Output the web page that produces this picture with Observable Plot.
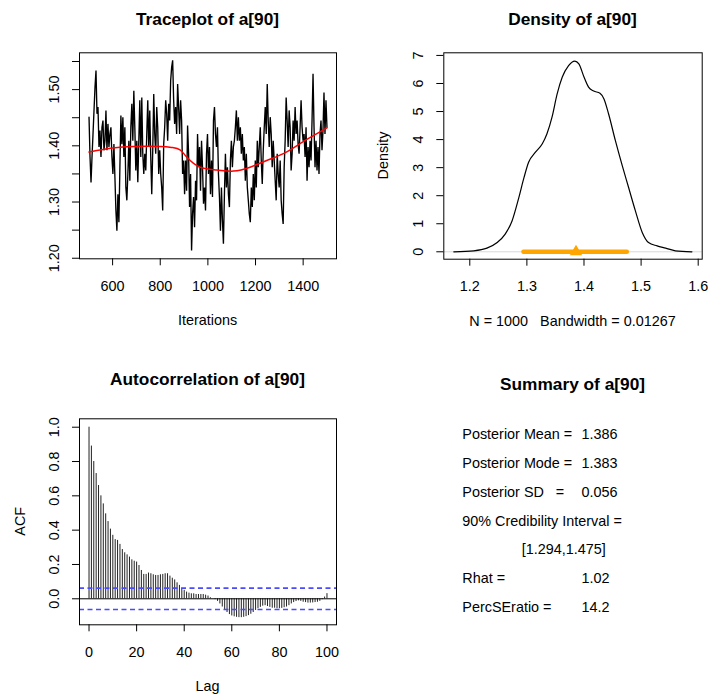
<!DOCTYPE html>
<html><head><meta charset="utf-8">
<script src="https://cdn.jsdelivr.net/npm/d3@7"></script>
<script src="https://cdn.jsdelivr.net/npm/@observablehq/plot@0.6"></script>
<style>
html,body{margin:0;padding:0;background:#fff;}
#chart{position:relative;width:710px;height:695px;background:#fff;overflow:hidden;}
</style></head><body><div id="chart"></div>
<script>
// ---------------- DATA ----------------
const paramName = "a[90]";
const traceFirstIter = 501, traceLastIter = 1500;
const traceValues = [
1.451,1.380,1.335,1.380,1.421,1.463,1.504,1.534,1.457,1.469,1.398,1.427,1.380,1.433,1.445,1.392,1.409,1.463,1.392,1.439,
1.398,1.421,1.433,1.380,1.350,1.403,1.344,1.285,1.249,1.314,1.264,1.362,1.454,1.403,1.451,1.380,1.433,1.326,1.303,1.350,
1.409,1.338,1.433,1.475,1.409,1.498,1.433,1.356,1.409,1.335,1.409,1.481,1.380,1.486,1.386,1.350,1.386,1.356,1.421,1.481,
1.398,1.463,1.380,1.314,1.392,1.492,1.421,1.386,1.469,1.433,1.350,1.392,1.350,1.326,1.285,1.403,1.433,1.481,1.457,1.409,
1.475,1.445,1.516,1.540,1.552,1.481,1.439,1.469,1.421,1.510,1.469,1.421,1.481,1.445,1.350,1.374,1.314,1.374,1.320,1.436,
1.386,1.291,1.350,1.214,1.279,1.309,1.255,1.338,1.303,1.421,1.362,1.398,1.320,1.409,1.362,1.297,1.326,1.285,1.386,1.421,
1.350,1.398,1.314,1.374,1.309,1.445,1.469,1.421,1.398,1.433,1.350,1.309,1.249,1.326,1.267,1.226,1.314,1.386,1.326,1.362,
1.314,1.291,1.374,1.409,1.362,1.398,1.409,1.433,1.463,1.409,1.451,1.409,1.433,1.386,1.421,1.374,1.398,1.338,1.386,1.326,
1.303,1.279,1.264,1.326,1.291,1.350,1.303,1.374,1.326,1.409,1.362,1.398,1.433,1.374,1.332,1.392,1.433,1.469,1.421,1.510,
1.445,1.398,1.451,1.421,1.362,1.409,1.374,1.338,1.303,1.386,1.350,1.326,1.374,1.303,1.279,1.261,1.362,1.409,1.486,1.445,
1.398,1.463,1.433,1.356,1.386,1.445,1.409,1.469,1.421,1.445,1.403,1.386,1.433,1.481,1.433,1.409,1.421,1.380,1.433,1.338,
1.398,1.362,1.409,1.374,1.445,1.528,1.433,1.362,1.409,1.356,1.398,1.350,1.421,1.445,1.392,1.427,1.495,1.421,1.481,1.433
];
// Red smoother through the trace
const smoothIter  = [501,600,687,799,850,883,911,967,1037,1107,1177,1247,1317,1387,1443,1500];
const smoothValue = [1.389,1.396,1.399,1.399,1.397,1.393,1.380,1.362,1.357,1.355,1.362,1.374,1.386,1.404,1.418,1.432];
const traceXTicks = [600,800,1000,1200,1400];
const traceYTicks = [1.20,1.25,1.30,1.35,1.40,1.45,1.50,1.55];
const traceYTickLabels = ["1.20","","1.30","","1.40","","1.50",""];

// Density curve
const densX = [1.172,1.207,1.230,1.248,1.262,1.274,1.286,1.295,1.303,1.315,1.327,1.335,1.344,1.353,1.362,1.373,1.384,1.391,1.400,1.408,1.417,1.428,1.435,1.443,1.455,1.467,1.478,1.490,1.502,1.513,1.528,1.543,1.560,1.589];
const densY = [0.0,0.036,0.13,0.33,0.63,1.1,1.94,2.65,3.19,3.55,3.85,4.2,4.8,5.63,6.23,6.64,6.8,6.7,6.23,5.87,5.73,5.65,5.45,4.92,3.96,3.07,2.3,1.46,0.69,0.33,0.21,0.13,0.036,0.0];
const densXTicks = [1.2,1.3,1.4,1.5,1.6];
const densYTicks = [0,1,2,3,4,5,6,7];
const posteriorMean = 1.386;
const ciLow = 1.294, ciHigh = 1.475;
const densNote = "N = 1000   Bandwidth = 0.01267";

// Autocorrelation, lags 0..100
const acfValues = [
1.0,0.89,0.80,0.73,0.66,0.60,0.553,0.495,0.45,0.406,
0.37,0.345,0.34,0.317,0.287,0.268,0.256,0.243,0.227,0.219,
0.214,0.194,0.165,0.142,0.142,0.15,0.146,0.14,0.136,0.136,
0.14,0.142,0.146,0.146,0.132,0.12,0.11,0.093,0.078,0.058,
0.049,0.039,0.033,0.029,0.029,0.025,0.025,0.025,0.025,0.021,
0.016,0.006,0.0,-0.005,-0.015,-0.03,-0.048,-0.065,-0.08,-0.092,
-0.1,-0.105,-0.108,-0.11,-0.11,-0.108,-0.104,-0.098,-0.09,-0.08,
-0.068,-0.058,-0.05,-0.043,-0.04,-0.045,-0.05,-0.055,-0.055,-0.058,
-0.058,-0.056,-0.052,-0.048,-0.04,-0.03,-0.022,-0.016,-0.012,-0.015,
-0.02,-0.022,-0.025,-0.025,-0.024,-0.022,-0.02,-0.015,-0.005,0.01,
0.03];
const acfCI = 0.062;
const acfXTicks = [0,20,40,60,80,100];
const acfYTicks = [0,0.2,0.4,0.6,0.8,1.0];

// Summary panel
const summaryLabels = ["Posterior Mean =","Posterior Mode =","Posterior SD   =","90% Credibility Interval =","","Rhat =","PercSEratio ="];
const summaryValues = ["1.386","1.383","0.056","","[1.294,1.475]","1.02","14.2"];

// ---------------- BUILD ----------------
const FONT = '"Liberation Sans", Arial, Helvetica, sans-serif';
const chart = document.getElementById("chart");
function place(el, left, top) {
  el.style.position = "absolute"; el.style.left = left + "px"; el.style.top = top + "px";
  chart.appendChild(el);
}
const style = {fontFamily: FONT, fontSize: "14.4px", background: "transparent", color: "black", overflow: "visible"};
const ax = {tickSize: 7, fontSize: 14.4, label: null, stroke: "black"};

const trace = traceValues.map((v, i) => ({iter: traceFirstIter + i * (traceLastIter - traceFirstIter) / (traceValues.length - 1), value: v}));
const smooth = smoothIter.map((t, i) => ({iter: t, value: smoothValue[i]}));
const traceYMap = new Map(traceYTicks.map((t, i) => [t, traceYTickLabels[i]]));

const p1 = Plot.plot({
  width: 355, height: 340, marginLeft: 79, marginRight: 19, marginTop: 52.3, marginBottom: 81.7,
  x: {domain: [461, 1540]}, y: {domain: [1.199, 1.5655]}, style,
  marks: [
    Plot.line(trace, {x: "iter", y: "value", stroke: "black", strokeWidth: 1.35, strokeLinejoin: "miter"}),
    Plot.line(smooth, {x: "iter", y: "value", stroke: "red", strokeWidth: 1.5, curve: "natural"}),
    Plot.frame({stroke: "black"}),
    Plot.axisX({...ax, ticks: traceXTicks, tickPadding: 15, tickFormat: d => String(d)}),
    Plot.axisY({...ax, ticks: traceYTicks, tickPadding: 14, tickRotate: -90, tickFormat: d => traceYMap.get(d) ?? ""})
  ]
});
place(p1, 0, 0);

const dens = densX.map((x, i) => ({x, y: densY[i]}));
const p2 = Plot.plot({
  width: 355, height: 340, marginLeft: 88.3, marginRight: 8.3, marginTop: 52.3, marginBottom: 81.3,
  x: {domain: [1.1545, 1.607]}, y: {domain: [-0.264, 7.094]}, style,
  marks: [
    Plot.ruleY([0], {stroke: "#d9d9d9"}),
    Plot.line(dens, {x: "x", y: "y", stroke: "black", strokeWidth: 1.2, curve: "monotone-x"}),
    Plot.link([{a: ciLow, b: ciHigh}], {x1: "a", x2: "b", y1: () => 0, y2: () => 0, stroke: "orange", strokeWidth: 4.5, strokeLinecap: "round"}),
    Plot.dot([posteriorMean], {x: d => d, y: () => 0, symbol: "triangle", r: 4.6, fill: "orange", stroke: "none"}),
    Plot.frame({stroke: "black"}),
    Plot.axisX({...ax, ticks: densXTicks, tickPadding: 15, tickFormat: d => d.toFixed(1)}),
    Plot.axisY({...ax, ticks: densYTicks, tickPadding: 14, tickRotate: -90, tickFormat: d => String(d)})
  ]
});
place(p2, 355, 0);

const acf = acfValues.map((v, i) => ({lag: i, acf: v}));
const p3 = Plot.plot({
  width: 355, height: 355, marginLeft: 79, marginRight: 19, marginTop: 78.3, marginBottom: 70.7,
  x: {domain: [-4, 104]}, y: {domain: [-0.1516, 1.049]}, style,
  marks: [
    Plot.ruleX(acf, {x: "lag", y1: () => 0, y2: "acf", stroke: "#222", strokeWidth: 1}),
    Plot.ruleY([0], {stroke: "black"}),
    Plot.ruleY([acfCI, -acfCI], {stroke: "#4a4aff", strokeWidth: 1.6, strokeDasharray: "5,3.5"}),
    Plot.frame({stroke: "black"}),
    Plot.axisX({...ax, ticks: acfXTicks, tickPadding: 15, tickFormat: d => String(d)}),
    Plot.axisY({...ax, ticks: acfYTicks, tickPadding: 14, tickRotate: -90, tickFormat: d => d.toFixed(1)})
  ]
});
place(p3, 0, 340);

// ---------------- TEXT OVERLAY ----------------
const ov = d3.create("svg").attr("width", 710).attr("height", 695)
  .style("font-family", FONT).style("pointer-events", "none");
place(ov.node(), 0, 0);
function txt(s, x, y, opt = {}) {
  const t = ov.append("text").attr("x", x).attr("y", y).attr("font-size", opt.size || 14.4)
    .attr("text-anchor", opt.anchor || "middle").attr("fill", "black").style("white-space", "pre").text(s);
  if (opt.bold) t.attr("font-weight", "bold");
  if (opt.rotate) t.attr("transform", `rotate(-90,${x},${y})`);
  return t;
}
txt(`Traceplot of ${paramName}`, 207.5, 24.5, {size: 17.3, bold: true});
txt(`Density of ${paramName}`, 572.5, 24.5, {size: 17.3, bold: true});
txt(`Autocorrelation of ${paramName}`, 207.5, 384.5, {size: 17.3, bold: true});
txt(`Summary of ${paramName}`, 572.5, 390, {size: 17.3, bold: true});
txt("Iterations", 207.5, 325);
txt(densNote, 572.5, 325.5);
txt("Lag", 207.5, 691);
txt("Density", 388.3, 155.5, {rotate: true});
txt("ACF", 25.3, 521.3, {rotate: true});
summaryLabels.forEach((s, i) => {
  const y = 439.4 + i * 28.75;
  if (s) txt(s, 462.3, y, {anchor: "start"});
  const v = summaryValues[i];
  if (v) txt(v, v.startsWith("[") ? 521.7 : 581.5, y, {anchor: "start"});
});
</script></body></html>
